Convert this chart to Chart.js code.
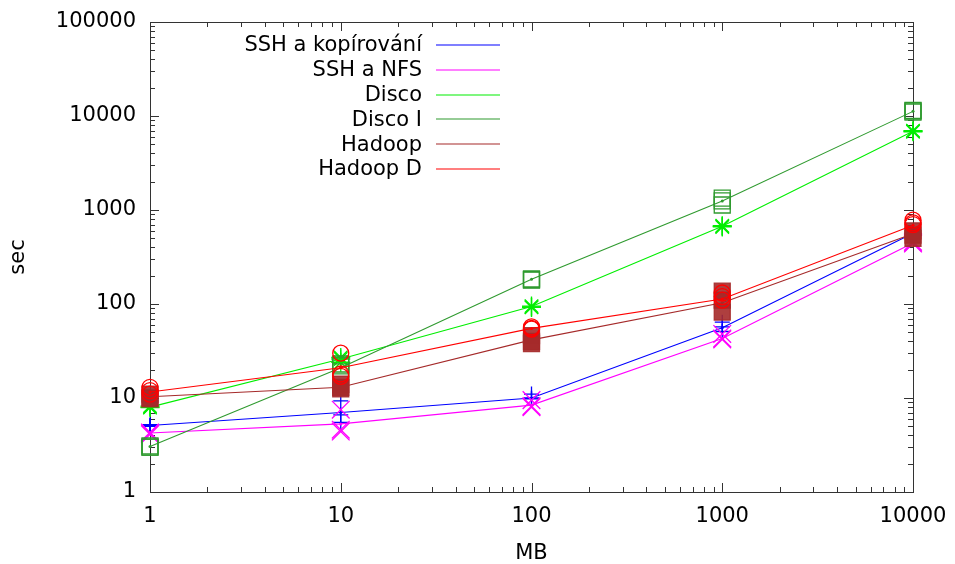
<!DOCTYPE html>
<html>
<head>
<meta charset="utf-8">
<script src="https://cdn.jsdelivr.net/npm/chart.js@4.4.1/dist/chart.umd.min.js"></script>
<style>
  html, body { margin: 0; padding: 0; background: #fff; }
</style>
</head>
<body>
<canvas id="chart" width="955" height="564"></canvas>
<script>
// data sizes (MB) and axis ticks
var sizesMB = [1, 10, 100, 1000, 10000];
var xTickValues = [1, 10, 100, 1000, 10000];
var yTickValues = [1, 10, 100, 1000, 10000, 100000];

var seriesNames = ['SSH a kopírování', 'SSH a NFS', 'Disco', 'Disco I', 'Hadoop', 'Hadoop D'];
var seriesColors = ['#0000ff', '#ff00ff', '#00ee00', '#2f9a2f', '#a52a2a', '#ff0000'];

// line values (sec) per size
var sshCopyLine  = [5.1, 7.0, 10, 56, 565];
var sshNfsLine   = [4.25, 5.3, 8.4, 43, 445];
var discoLine    = [8.0, 26, 94, 670, 6900];
var discoILine   = [3.05, 21, 183, 1250, 11200];
var hadoopLine   = [10.3, 13, 41.5, 103, 560];
var hadoopDLine  = [11.6, 21, 55, 113, 690];

// single runs (sec), one list per size
var sshCopyRuns  = [[5.0, 5.2, 5.1], [9.3, 6.6, 5.5], [11, 10, 9.8], [64, 57, 51], [580, 560, 540]];
var sshNfsRuns   = [[4.3, 4.2, 4.1], [7.5, 4.6, 4.4], [9.5, 8.0, 8.2], [48, 43, 42], [460, 450, 440]];
var discoRuns    = [[8.2, 7.9, 8.0], [27, 24, 26], [93, 95, 92], [680, 660, 670], [6900, 6800, 7000]];
var discoIRuns   = [[3.1, 3.0, 3.0], [23, 22, 19], [185, 182, 180], [1340, 1130, 1250], [11300, 11000, 11500]];
var hadoopRuns   = [[11, 10, 9.8], [14, 13, 12.5], [46, 40, 38], [137, 110, 82], [600, 540, 500]];
var hadoopDRuns  = [[13, 12, 11], [30, 17, 18], [55, 54, 57], [131, 110, 120], [780, 730, 700]];

var seriesLines = [sshCopyLine, sshNfsLine, discoLine, discoILine, hadoopLine, hadoopDLine];
var seriesRuns = [sshCopyRuns, sshNfsRuns, discoRuns, discoIRuns, hadoopRuns, hadoopDRuns];
var seriesMarkers = ['cross', 'crossRot', 'star', 'rect', 'rect', 'circle'];
var seriesMarkerSize = [7.5, 12.5, 9.5, 11.3, 11.3, 8];
var seriesMarkerFill = [false, false, false, false, true, false];

function toPoints(vals) {
    return sizesMB.map(function(x, i) { return {x: x, y: vals[i]}; });
}
function runPoints(runs) {
    var pts = [];
    runs.forEach(function(list, i) {
        list.forEach(function(v) { pts.push({x: sizesMB[i], y: v}); });
    });
    return pts;
}

var datasets = [];
var total = seriesNames.length * 2;
seriesNames.forEach(function(name, k) {
    var c = seriesColors[k];
    datasets.push({
        label: name,
        data: toPoints(seriesLines[k]),
        showLine: true,
        borderColor: c,
        borderWidth: 1.1,
        pointRadius: 1.5,
        pointBackgroundColor: c,
        pointBorderWidth: 0,
        clip: false,
        order: total - 2 * k
    });
    datasets.push({
        label: name + ' runs',
        data: runPoints(seriesRuns[k]),
        showLine: false,
        pointStyle: seriesMarkers[k],
        pointRadius: seriesMarkerSize[k],
        pointBorderColor: seriesMarkerFill[k] ? 'rgba(165,42,42,0.9)' : c,
        pointBackgroundColor: seriesMarkerFill[k] ? 'rgba(165,42,42,0.9)' : 'rgba(0,0,0,0)',
        pointBorderWidth: 1.3,
        clip: false,
        order: total - 2 * k - 1
    });
});

// border and gnuplot style ticks (inward, on all four sides)
var frameTicks = {
    id: 'frameTicks',
    beforeDatasetsDraw: function(chart) {
        var ctx = chart.ctx, a = chart.chartArea;
        var xs = chart.scales.x, ys = chart.scales.y;
        ctx.save();
        ctx.strokeStyle = '#333';
        ctx.lineWidth = 1;
        ctx.beginPath();
        function tickX(v, len) {
            var p = Math.round(xs.getPixelForValue(v)) + 0.5;
            ctx.moveTo(p, a.bottom); ctx.lineTo(p, a.bottom - len);
            ctx.moveTo(p, a.top); ctx.lineTo(p, a.top + len);
        }
        function tickY(v, len) {
            var p = Math.round(ys.getPixelForValue(v)) + 0.5;
            ctx.moveTo(a.left, p); ctx.lineTo(a.left + len, p);
            ctx.moveTo(a.right, p); ctx.lineTo(a.right - len, p);
        }
        xTickValues.forEach(function(d, i) {
            tickX(d, 9);
            if (i < xTickValues.length - 1) for (var m = 2; m < 10; m++) tickX(d * m, 5);
        });
        yTickValues.forEach(function(d, i) {
            tickY(d, 9);
            if (i < yTickValues.length - 1) for (var m = 2; m < 10; m++) tickY(d * m, 5);
        });
        ctx.stroke();
        ctx.strokeRect(Math.round(a.left) + 0.5, Math.round(a.top) + 0.5,
            Math.round(a.right - a.left), Math.round(a.bottom - a.top));
        ctx.restore();
    }
};

// key inside the plot, text right-aligned with line sample on the right
var keyBox = {
    id: 'keyBox',
    afterDraw: function(chart) {
        var g = chart.ctx;
        g.save();
        g.font = '21px "DejaVu Sans"';
        g.textAlign = 'right';
        g.textBaseline = 'middle';
        for (var i = 0; i < seriesNames.length; i++) {
            var y = 45 + i * 24.8;
            g.fillStyle = '#000';
            g.fillText(seriesNames[i], 422, y + 1);
            g.strokeStyle = seriesColors[i];
            g.lineWidth = 1.2;
            g.beginPath();
            g.moveTo(436, Math.round(y));
            g.lineTo(500, Math.round(y));
            g.stroke();
        }
        g.restore();
    }
};

var ctx = document.getElementById('chart');
new Chart(ctx, {
    type: 'scatter',
    data: { datasets: datasets },
    options: {
        responsive: false,
        animation: false,
        layout: { padding: { top: 22, right: 42, left: 0, bottom: 0 } },
        plugins: { legend: { display: false }, tooltip: { enabled: false } },
        scales: {
            x: {
                type: 'logarithmic',
                min: 1, max: 10000,
                grid: { display: false, drawTicks: false },
                border: { display: false },
                afterBuildTicks: function(s) { s.ticks = xTickValues.map(function(v) { return {value: v}; }); },
                afterFit: function(s) { s.height = 72; s.paddingLeft = 0; s.paddingRight = 0; },
                ticks: {
                    autoSkip: false, maxRotation: 0, padding: 12,
                    color: '#000', font: { family: 'DejaVu Sans', size: 21 },
                    callback: function(v) { return String(v); }
                },
                title: {
                    display: true, text: 'MB', color: '#000',
                    font: { family: 'DejaVu Sans', size: 21, lineHeight: 1 },
                    padding: { top: 0, bottom: 0 }
                }
            },
            y: {
                type: 'logarithmic',
                min: 1, max: 100000,
                grid: { display: false, drawTicks: false },
                border: { display: false },
                afterBuildTicks: function(s) { s.ticks = yTickValues.map(function(v) { return {value: v}; }); },
                afterFit: function(s) { s.width = 150; s.paddingTop = 0; s.paddingBottom = 0; },
                ticks: {
                    autoSkip: false, padding: 14,
                    color: '#000', font: { family: 'DejaVu Sans', size: 21 },
                    callback: function(v) { return String(v); }
                },
                title: {
                    display: true, text: 'sec', color: '#000',
                    font: { family: 'DejaVu Sans', size: 21 },
                    padding: { top: 6, bottom: 0 }
                }
            }
        }
    },
    plugins: [frameTicks, keyBox]
});
</script>
</body>
</html>
